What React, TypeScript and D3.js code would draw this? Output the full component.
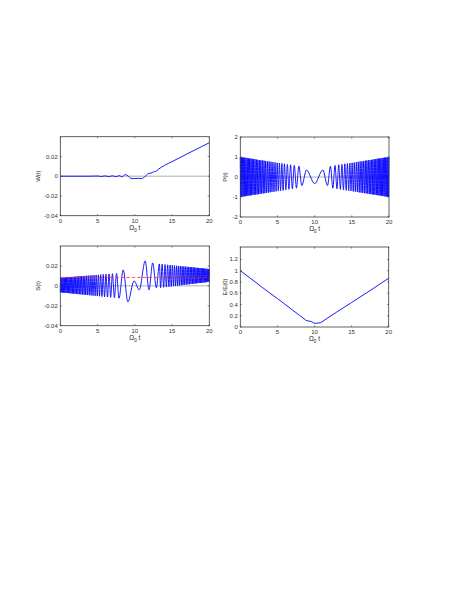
import React, { useEffect, useRef } from 'react';
import * as d3 from 'd3';

const timeTicks = [0, 5, 10, 15, 20];
const smallTicks = [-0.04, -0.02, 0, 0.02];
const pTicks = [-2, -1, 0, 1, 2];
const eTicks = [0, 0.2, 0.4, 0.6, 0.8, 1, 1.2];

// distance from t = 10 of the oscillation extrema (n = 0..67)
const chirpOffsets = [0, 1.1, 1.73, 2.12, 2.45, 2.74, 3.0, 3.24, 3.46, 3.67, 3.87, 4.06, 4.24, 4.41, 4.58, 4.74,
    4.89, 5.04, 5.19, 5.33, 5.47, 5.61, 5.74, 5.87, 5.99, 6.12, 6.24, 6.36, 6.47, 6.59, 6.7, 6.81, 6.92, 7.03,
    7.13, 7.24, 7.34, 7.44, 7.54, 7.64, 7.74, 7.83, 7.93, 8.02, 8.11, 8.21, 8.3, 8.39, 8.47, 8.56, 8.65, 8.74,
    8.82, 8.91, 8.99, 9.07, 9.15, 9.24, 9.32, 9.4, 9.47, 9.55, 9.63, 9.71, 9.79, 9.86, 9.94, 10.0];

// P(t) at those extrema, the same on both sides of t = 10
const pExtrema = [-0.33, 0.35, -0.43, 0.54, -0.56, 0.58, -0.59, 0.61, -0.62, 0.63, -0.64, 0.66, -0.67, 0.68,
    -0.69, 0.7, -0.7, 0.71, -0.72, 0.73, -0.74, 0.75, -0.75, 0.76, -0.77, 0.78, -0.78, 0.79, -0.8, 0.8, -0.81,
    0.82, -0.82, 0.83, -0.83, 0.84, -0.85, 0.85, -0.86, 0.86, -0.87, 0.87, -0.88, 0.89, -0.89, 0.9, -0.9, 0.91,
    -0.91, 0.92, -0.92, 0.93, -0.93, 0.94, -0.94, 0.95, -0.95, 0.96, -0.96, 0.97, -0.97, 0.97, -0.98, 0.98,
    -0.99, 0.99, -1.0, 1.0];

// S(t): slow part around the crossing, then the fast extrema left (n = 3..67) and right (n = 8..67)
const sCore: [number, number][] = [[8.44, 0.016], [9.07, -0.016], [9.9, 0.005], [10.6, -0.004], [11.4, 0.025],
    [11.9, -0.004], [12.4, 0.023], [12.9, -0.002], [13.3, 0.022]];
const sLeft = [-0.0124, 0.0125, -0.0119, 0.0122, -0.0116, 0.0119, -0.0112, 0.0117, -0.011, 0.0115, -0.0107,
    0.0113, -0.0104, 0.0111, -0.0102, 0.0109, -0.01, 0.0107, -0.0098, 0.0106, -0.0096, 0.0104, -0.0094, 0.0103,
    -0.0092, 0.0101, -0.0091, 0.01, -0.0089, 0.0098, -0.0087, 0.0097, -0.0086, 0.0096, -0.0084, 0.0095, -0.0083,
    0.0094, -0.0081, 0.0092, -0.008, 0.0091, -0.0078, 0.009, -0.0077, 0.0089, -0.0076, 0.0088, -0.0074, 0.0087,
    -0.0073, 0.0086, -0.0072, 0.0085, -0.0071, 0.0084, -0.007, 0.0083, -0.0068, 0.0082, -0.0067, 0.0081, -0.0066,
    0.008, -0.0065];
const sRight = [-0.0019, 0.0217, -0.0015, 0.0214, -0.0012, 0.0211, -0.0008, 0.0209, -0.0006, 0.0207, -0.0003,
    0.0204, 0.0, 0.0202, 0.0002, 0.02, 0.0004, 0.0198, 0.0006, 0.0196, 0.0009, 0.0195, 0.0011, 0.0193, 0.0013,
    0.0191, 0.0014, 0.019, 0.0016, 0.0188, 0.0018, 0.0187, 0.002, 0.0185, 0.0022, 0.0184, 0.0023, 0.0182, 0.0025,
    0.0181, 0.0027, 0.018, 0.0028, 0.0178, 0.003, 0.0177, 0.0031, 0.0176, 0.0033, 0.0174, 0.0034, 0.0173, 0.0036,
    0.0172, 0.0037, 0.0171, 0.0039, 0.0169, 0.004, 0.0168];
const sMean = 0.0085;

const wPoints: [number, number][] = [[0, 0], [4, 0], [5, 0.0002], [5.5, -0.0003], [6, 0.0003], [6.5, -0.0004],
    [7, 0.0004], [7.5, -0.0005], [7.9, 0.0006], [8.3, -0.0006], [8.7, 0.0017], [9.1, 0.0002], [9.5, -0.0022],
    [10, -0.0024], [10.5, -0.0022], [10.9, -0.0024], [11.3, -0.0008], [11.6, 0.0012], [11.9, 0.003],
    [12.2, 0.0032], [12.5, 0.0044], [12.8, 0.0048], [13.2, 0.0072], [14, 0.011], [15, 0.0148], [16, 0.0186],
    [17, 0.0225], [18, 0.0263], [19, 0.0301], [20, 0.0339]];

const ePoints: [number, number][] = [[0, 1.0], [1, 0.9], [2, 0.8], [3, 0.7], [4, 0.6], [5, 0.505], [6, 0.405],
    [7, 0.305], [8, 0.205], [8.8, 0.125], [9.0, 0.11], [9.3, 0.105], [9.6, 0.095], [9.9, 0.07], [10.1, 0.065],
    [10.5, 0.07], [10.8, 0.075], [11.0, 0.09], [12, 0.18], [13, 0.265], [14, 0.35], [15, 0.435], [16, 0.52],
    [17, 0.605], [18, 0.69], [19, 0.78], [20, 0.865]];

const buildP = (): [number, number][] => {
    const pts: [number, number][] = [];
    for (let n = chirpOffsets.length - 1; n >= 1; n--) pts.push([10 - chirpOffsets[n], pExtrema[n]]);
    pts.push([10, pExtrema[0]]);
    for (let n = 1; n < chirpOffsets.length; n++) pts.push([10 + chirpOffsets[n], pExtrema[n]]);
    return pts;
};

const buildS = (): [number, number][] => {
    const pts: [number, number][] = [];
    for (let i = sLeft.length - 1; i >= 0; i--) pts.push([10 - chirpOffsets[i + 3], sLeft[i]]);
    sCore.forEach((d) => pts.push(d));
    sRight.forEach((v, i) => pts.push([10 + chirpOffsets[i + 8], v]));
    return pts;
};

const FONT = '"Liberation Sans", Arial, sans-serif';

export default function App() {
    const ref = useRef<SVGSVGElement>(null);

    useEffect(() => {
        const svg = d3.select(ref.current);
        svg.selectAll('*').remove();

        const panels = [
            { x0: 60.3, x1: 209.3, y0: 136.7, y1: 215.7, domain: [-0.04, 0.04], ticks: smallTicks, label: 'W(t)',
                labelX: 39.5, data: wPoints, curve: d3.curveMonotoneX, zero: true, mean: null },
            { x0: 240.3, x1: 389, y0: 137, y1: 217, domain: [-2, 2], ticks: pTicks, label: 'P(t)',
                labelX: 227, data: buildP(), curve: d3.curveMonotoneX, zero: true, mean: null },
            { x0: 60.3, x1: 209.3, y0: 246, y1: 325.7, domain: [-0.04, 0.04], ticks: smallTicks, label: 'S(t)',
                labelX: 39.5, data: buildS(), curve: d3.curveMonotoneX, zero: true, mean: sMean },
            { x0: 240.3, x1: 388.7, y0: 247, y1: 327, domain: [0, 1.42], ticks: eTicks, label: 'E/E(0)',
                labelX: 227, data: ePoints, curve: d3.curveLinear, zero: false, mean: null },
        ];

        panels.forEach((p) => {
            const x = d3.scaleLinear().domain([0, 20]).range([p.x0, p.x1]);
            const y = d3.scaleLinear().domain(p.domain).range([p.y1, p.y0]);
            const g = svg.append('g');

            if (p.zero) {
                g.append('line')
                    .attr('x1', p.x0).attr('x2', p.x1)
                    .attr('y1', y(0)).attr('y2', y(0))
                    .attr('stroke', '#9a9a9a').attr('stroke-width', 0.8);
            }

            const line = d3.line<[number, number]>()
                .x((d) => x(d[0]))
                .y((d) => y(d[1]))
                .curve(p.curve);

            g.append('path')
                .attr('d', line(p.data))
                .attr('fill', 'none')
                .attr('stroke', '#0000ff')
                .attr('stroke-width', 0.9);

            if (p.mean !== null) {
                g.append('line')
                    .attr('x1', p.x0).attr('x2', p.x1)
                    .attr('y1', y(p.mean)).attr('y2', y(p.mean))
                    .attr('stroke', '#ff2020').attr('stroke-width', 0.8)
                    .attr('stroke-dasharray', '3.5,2');
            }

            // box and inward ticks on all sides
            g.append('rect')
                .attr('x', p.x0).attr('y', p.y0)
                .attr('width', p.x1 - p.x0).attr('height', p.y1 - p.y0)
                .attr('fill', 'none').attr('stroke', '#3a3a3a').attr('stroke-width', 0.8);

            const tl = 1.6;
            timeTicks.forEach((t) => {
                g.append('line').attr('x1', x(t)).attr('x2', x(t)).attr('y1', p.y1).attr('y2', p.y1 - tl)
                    .attr('stroke', '#3a3a3a').attr('stroke-width', 0.6);
                g.append('line').attr('x1', x(t)).attr('x2', x(t)).attr('y1', p.y0).attr('y2', p.y0 + tl)
                    .attr('stroke', '#3a3a3a').attr('stroke-width', 0.6);
                g.append('text')
                    .attr('x', x(t)).attr('y', p.y1 + 7)
                    .attr('text-anchor', 'middle')
                    .style('font', `6px ${FONT}`).attr('fill', '#333')
                    .text(String(t));
            });
            p.ticks.forEach((v) => {
                g.append('line').attr('x1', p.x0).attr('x2', p.x0 + tl).attr('y1', y(v)).attr('y2', y(v))
                    .attr('stroke', '#3a3a3a').attr('stroke-width', 0.6);
                g.append('line').attr('x1', p.x1).attr('x2', p.x1 - tl).attr('y1', y(v)).attr('y2', y(v))
                    .attr('stroke', '#3a3a3a').attr('stroke-width', 0.6);
                g.append('text')
                    .attr('x', p.x0 - 2.5).attr('y', y(v)).attr('dy', '0.35em')
                    .attr('text-anchor', 'end')
                    .style('font', `6px ${FONT}`).attr('fill', '#333')
                    .text(String(v));
            });

            g.append('text')
                .attr('transform', `translate(${p.labelX},${(p.y0 + p.y1) / 2}) rotate(-90)`)
                .attr('text-anchor', 'middle')
                .style('font', `6px ${FONT}`).attr('fill', '#222')
                .text(p.label);

            const xl = g.append('text')
                .attr('x', (p.x0 + p.x1) / 2).attr('y', p.y1 + 14)
                .attr('text-anchor', 'middle')
                .style('font', `6.5px ${FONT}`).attr('fill', '#222');
            xl.append('tspan').text('Ω');
            xl.append('tspan').attr('dy', 1.8).style('font-size', '4.5px').text('0');
            xl.append('tspan').attr('dy', -1.8).text(' t');
        });
    }, []);

    return (
        <svg ref={ref} width={458} height={592}
            style={{ position: 'absolute', left: 0, top: 0, background: '#fff' }} />
    );
}
